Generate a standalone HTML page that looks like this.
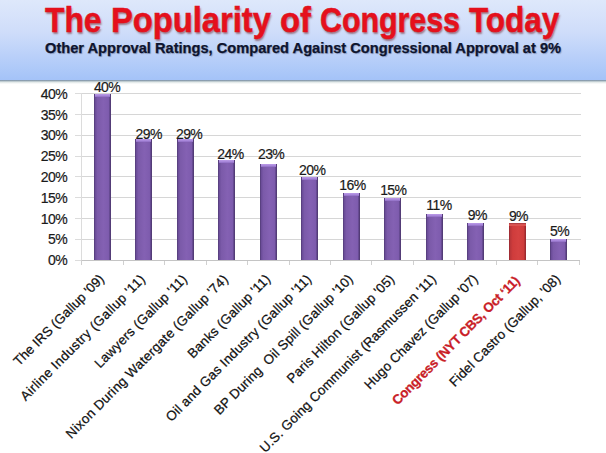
<!DOCTYPE html>
<html><head><meta charset="utf-8"><style>
html,body{margin:0;padding:0;}
body{width:606px;height:453px;position:relative;overflow:hidden;background:#fff;font-family:"Liberation Sans",sans-serif;}
#hdr{position:absolute;left:0;top:0;width:606px;height:80px;background:linear-gradient(to bottom,#dee8fb 0%,#cfddfa 40%,#a4c3f8 100%);}
#hdr:after{content:"";position:absolute;left:0;top:80px;width:606px;height:4px;background:linear-gradient(to bottom,#6f859e 0%,#b4c2c8 30%,#e4eaea 60%,#ffffff 100%);}
.tw{position:absolute;top:0.4px;font-weight:bold;font-size:35px;color:#e5101c;white-space:nowrap;transform-origin:0 0;-webkit-text-stroke:0.5px #e0101c;text-shadow:1px 2px 2px rgba(90,0,0,0.45);}
#sub{position:absolute;left:45px;top:39px;font-weight:bold;font-size:15px;-webkit-text-stroke:0.25px #0a0f25;transform-origin:0 0;transform:scaleX(0.975);color:#0e1530;white-space:nowrap;text-shadow:1px 1px 1px rgba(0,0,40,0.25);}
.gl{position:absolute;left:82px;width:498.5px;height:1px;background:#d6d6d6;}
.tk{position:absolute;left:75px;width:7px;height:1px;background:#dcdcdc;}
.xt{position:absolute;top:260px;width:1px;height:5px;background:#d0d0d0;}
#yax{position:absolute;left:81px;top:93.6px;width:1px;height:166.4px;background:#dcdcdc;}
#xax{position:absolute;left:81.5px;top:259.5px;width:498.5px;height:1px;background:#c4c4c4;}
.yl{position:absolute;right:539px;font-size:14px;line-height:15px;letter-spacing:-0.6px;color:#1a1a1a;-webkit-text-stroke:0.2px #1a1a1a;}
.vl{position:absolute;font-size:14px;line-height:15px;letter-spacing:-0.6px;color:#1a1a1a;white-space:nowrap;-webkit-text-stroke:0.2px #1a1a1a;}
.bar{position:absolute;width:16.9px;background:linear-gradient(to right,#4d3870 0%,#6a4c98 7%,#7b5aa9 20%,#8461b3 55%,#7e5cae 85%,#5c4386 94%,#4a3568 100%);}
.bar:before{content:"";position:absolute;left:1px;right:1px;top:0;height:3px;background:linear-gradient(to bottom,#bb9ae8 0%,#a887da 55%,#8e6cc2 100%);}
.bar.red{background:linear-gradient(to right,#922630 0%,#bb3639 8%,#cf3c3c 22%,#d54241 55%,#cf3c3c 85%,#ab2f32 94%,#8e262e 100%);}
.bar.red:before{left:0;right:0;height:3px;background:linear-gradient(to bottom,#a0343a 0%,#c84a4c 35%,#e05c58 65%,#da4a48 100%);}
.xl{position:absolute;font-size:13.3px;line-height:16px;color:#111;white-space:nowrap;transform-origin:100% 50%;transform:rotate(-45.3deg);-webkit-text-stroke:0.25px #111;}
.xl.cg{color:#cc1e28;font-weight:bold;-webkit-text-stroke:0.25px #c01a24;}
</style></head><body>
<div id="hdr"></div>
<div class="tw" style="left:45px;transform:scaleX(0.908)">The</div><div class="tw" style="left:111.1px;transform:scaleX(0.934)">Popularity</div><div class="tw" style="left:279.9px;transform:scaleX(0.936)">of</div><div class="tw" style="left:319.8px;transform:scaleX(0.867)">Congress</div><div class="tw" style="left:469.3px;transform:scaleX(0.898)">Today</div>
<div id="sub">Other Approval Ratings, Compared Against Congressional Approval at 9%</div>
<div id="yax"></div>
<div class="gl" style="top:238.70px"></div>
<div class="tk" style="top:238.70px"></div>
<div class="yl" style="top:232.35px">5%</div>
<div class="gl" style="top:217.90px"></div>
<div class="tk" style="top:217.90px"></div>
<div class="yl" style="top:211.55px">10%</div>
<div class="gl" style="top:197.10px"></div>
<div class="tk" style="top:197.10px"></div>
<div class="yl" style="top:190.75px">15%</div>
<div class="gl" style="top:176.30px"></div>
<div class="tk" style="top:176.30px"></div>
<div class="yl" style="top:169.95px">20%</div>
<div class="gl" style="top:155.50px"></div>
<div class="tk" style="top:155.50px"></div>
<div class="yl" style="top:149.15px">25%</div>
<div class="gl" style="top:134.70px"></div>
<div class="tk" style="top:134.70px"></div>
<div class="yl" style="top:128.35px">30%</div>
<div class="gl" style="top:113.90px"></div>
<div class="tk" style="top:113.90px"></div>
<div class="yl" style="top:107.55px">35%</div>
<div class="gl" style="top:93.10px"></div>
<div class="tk" style="top:93.10px"></div>
<div class="yl" style="top:86.75px">40%</div>
<div class="yl" style="top:253.15px">0%</div>
<div class="tk" style="top:259.50px"></div>
<div class="xt" style="left:81.05px"></div>
<div class="xt" style="left:122.54px"></div>
<div class="xt" style="left:164.03px"></div>
<div class="xt" style="left:205.52px"></div>
<div class="xt" style="left:247.01px"></div>
<div class="xt" style="left:288.50px"></div>
<div class="xt" style="left:329.99px"></div>
<div class="xt" style="left:371.48px"></div>
<div class="xt" style="left:412.97px"></div>
<div class="xt" style="left:454.46px"></div>
<div class="xt" style="left:495.95px"></div>
<div class="xt" style="left:537.44px"></div>
<div class="xt" style="left:578.93px"></div>
<div class="bar" style="left:93.84px;top:93.60px;height:166.40px"></div>
<div class="vl" style="left:93.90px;top:79.50px">40%</div>
<div class="xl" id="l0" style="right:503.90px;top:269.20px;letter-spacing:0.067px">The IRS (Gallup '09)</div>
<div class="bar" style="left:135.34px;top:139.36px;height:120.64px"></div>
<div class="vl" style="left:135.60px;top:126.80px">29%</div>
<div class="xl" id="l1" style="right:462.41px;top:269.20px;letter-spacing:0.423px">Airline Industry (Gallup '11)</div>
<div class="bar" style="left:176.83px;top:139.36px;height:120.64px"></div>
<div class="vl" style="left:176.00px;top:126.50px">29%</div>
<div class="xl" id="l2" style="right:420.92px;top:269.20px;letter-spacing:0.229px">Lawyers (Gallup '11)</div>
<div class="bar" style="left:218.31px;top:160.16px;height:99.84px"></div>
<div class="vl" style="left:217.30px;top:146.80px">24%</div>
<div class="xl" id="l3" style="right:379.44px;top:269.20px;letter-spacing:0.307px">Nixon During Watergate (Gallup '74)</div>
<div class="bar" style="left:259.81px;top:164.32px;height:95.68px"></div>
<div class="vl" style="left:258.00px;top:146.90px">23%</div>
<div class="xl" id="l4" style="right:337.94px;top:269.20px;letter-spacing:0.191px">Banks (Gallup '11)</div>
<div class="bar" style="left:301.30px;top:176.80px;height:83.20px"></div>
<div class="vl" style="left:299.10px;top:162.50px">20%</div>
<div class="xl" id="l5" style="right:296.45px;top:269.20px;letter-spacing:0.250px">Oil and Gas Industry (Gallup '11)</div>
<div class="bar" style="left:342.79px;top:193.44px;height:66.56px"></div>
<div class="vl" style="left:339.30px;top:177.90px">16%</div>
<div class="xl" id="l6" style="right:254.96px;top:269.20px;letter-spacing:0.183px">BP During&nbsp; Oil Spill (Gallup '10)</div>
<div class="bar" style="left:384.28px;top:197.60px;height:62.40px"></div>
<div class="vl" style="left:380.20px;top:182.50px">15%</div>
<div class="xl" id="l7" style="right:213.47px;top:269.20px;letter-spacing:0.262px">Paris Hilton (Gallup '05)</div>
<div class="bar" style="left:425.77px;top:214.24px;height:45.76px"></div>
<div class="vl" style="left:426.30px;top:198.00px">11%</div>
<div class="xl" id="l8" style="right:171.98px;top:269.20px;letter-spacing:0.147px">U.S. Going Communist (Rasmussen '11)</div>
<div class="bar" style="left:467.26px;top:222.56px;height:37.44px"></div>
<div class="vl" style="left:467.80px;top:208.10px">9%</div>
<div class="xl" id="l9" style="right:130.49px;top:269.20px;letter-spacing:0.095px">Hugo Chavez (Gallup '07)</div>
<div class="bar red" style="left:508.75px;top:222.56px;height:37.44px"></div>
<div class="vl" style="left:508.90px;top:208.50px">9%</div>
<div class="xl cg" id="l10" style="right:88.56px;top:271.40px;letter-spacing:-0.325px">Congress (NYT CBS, Oct &#8216;11)</div>
<div class="bar" style="left:550.24px;top:239.20px;height:20.80px"></div>
<div class="vl" style="left:550.10px;top:223.80px">5%</div>
<div class="xl" id="l11" style="right:47.51px;top:269.20px;letter-spacing:0.155px">Fidel Castro (Gallup, '08)</div>
<div id="xax"></div>
</body></html>
